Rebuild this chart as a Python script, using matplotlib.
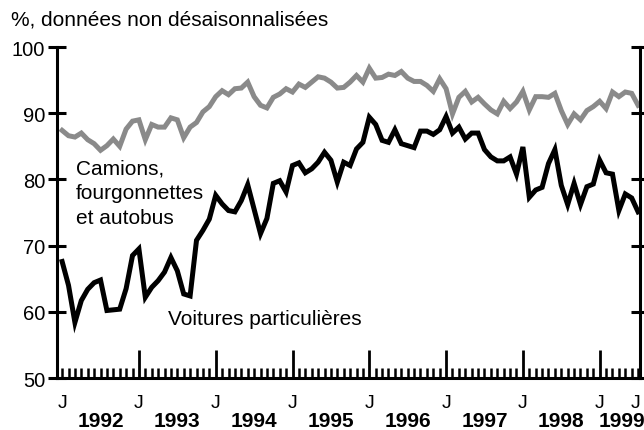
import matplotlib
matplotlib.use("Agg")
import matplotlib.pyplot as plt
import numpy as np

plt.rcParams["font.family"] = ["Liberation Sans", "DejaVu Sans"]

# Mensuel, janvier 1992 -> juillet 1999
camions = [87.4, 86.6, 86.4, 87.0, 86.0, 85.4, 84.4, 85.1, 86.1, 85.0,
           87.6, 88.8, 89.0, 86.0, 88.3, 87.9, 87.9, 89.3, 89.0, 86.3,
           87.9, 88.6, 90.2, 91.0, 92.5, 93.4, 92.8, 93.7, 93.8, 94.7,
           92.5, 91.2, 90.8, 92.4, 92.9, 93.7, 93.2, 94.4, 93.9, 94.7,
           95.5, 95.3, 94.7, 93.8, 93.9, 94.7, 95.7, 94.7, 96.8, 95.3,
           95.4, 95.9, 95.7, 96.3, 95.3, 94.8, 94.8, 94.2, 93.3, 95.2,
           93.7, 89.9, 92.4, 93.3, 91.7, 92.4, 91.4, 90.5, 89.9, 91.8,
           90.7, 91.7, 93.3, 90.5, 92.5, 92.5, 92.4, 93.0, 90.4, 88.3,
           89.9, 89.0, 90.4, 91.0, 91.8, 90.7, 93.2, 92.5, 93.2, 93.0,
           91.2]
voitures = [67.6, 64.0, 58.4, 61.7, 63.4, 64.4, 64.8, 60.2, 60.3, 60.4,
            63.5, 68.5, 69.5, 62.2, 63.7, 64.7, 66.0, 68.2, 66.2, 62.7,
            62.4, 70.8, 72.3, 74.0, 77.6, 76.3, 75.3, 75.1, 76.8, 79.2,
            75.5, 71.8, 74.1, 79.4, 79.8, 78.1, 82.1, 82.5, 81.0, 81.6,
            82.6, 84.1, 82.9, 79.6, 82.6, 82.1, 84.6, 85.6, 89.4, 88.3,
            85.9, 85.6, 87.5, 85.4, 85.1, 84.8, 87.3, 87.3, 86.8, 87.5,
            89.5, 87.0, 87.9, 86.1, 87.0, 87.0, 84.5, 83.4, 82.8, 82.8,
            83.4, 80.8, 84.9, 77.3, 78.4, 78.8, 82.4, 84.5, 79.1, 76.2,
            79.4, 76.2, 78.9, 79.3, 82.9, 81.0, 80.8, 75.3, 77.8, 77.2,
            75.1]
annees = ["1992", "1993", "1994", "1995", "1996", "1997", "1998", "1999"]
yticks = [50, 60, 70, 80, 90, 100]

mois = np.arange(len(voitures))

fig = plt.figure(figsize=(6.44, 4.31), dpi=100)
ax = fig.add_axes([0.0885, 0.1206, 0.9053, 0.768])

ax.plot(mois, camions, color="#8a8a8a", linewidth=3.6, solid_joinstyle="miter")
ax.plot(mois, voitures, color="black", linewidth=3.6, solid_joinstyle="miter")

ax.set_xlim(-0.8, 90.3)
ax.set_ylim(50, 100)

for s in ["left", "right", "bottom"]:
    ax.spines[s].set_linewidth(2.2)
ax.spines["top"].set_visible(False)

# axe des y
ax.set_yticks(yticks)
ax.tick_params(axis="y", which="major", direction="inout", length=13, width=2.2,
               labelsize=14.5, pad=2, left=True, right=True)

# axe des x : mois (mineurs) et janvier (majeurs)
janv = mois[12::12]
ax.set_xticks(janv)
ax.set_xticks([m for m in mois if m % 12 != 0 or m == 0], minor=True)
ax.set_xticklabels([])
ax.tick_params(axis="x", which="major", direction="in", length=20, width=2)
ax.tick_params(axis="x", which="minor", direction="in", length=7, width=1.8)

tr = ax.get_xaxis_transform()
for m in list(mois[0::12]) + [89.6]:
    ax.text(m, -0.075, "J", transform=tr, ha="center", va="center", fontsize=14)
centres = [6, 18, 30, 42, 54, 66, 78, 87.4]
for k, (a, c) in enumerate(zip(annees, centres)):
    ax.text(c, -0.129, a, transform=tr, ha="center", va="center",
            fontsize=15, fontweight="bold")

ax.text(2.1, 83.2, "Camions,\nfourgonnettes\net autobus", fontsize=15,
        ha="left", va="top", linespacing=1.4)
ax.text(16.6, 59.0, "Voitures particulières", fontsize=15,
        ha="left", va="center")

fig.text(0.017, 0.954, "%, données non désaisonnalisées", fontsize=15,
         ha="left", va="center")

fig.savefig("out.png", dpi=100)
